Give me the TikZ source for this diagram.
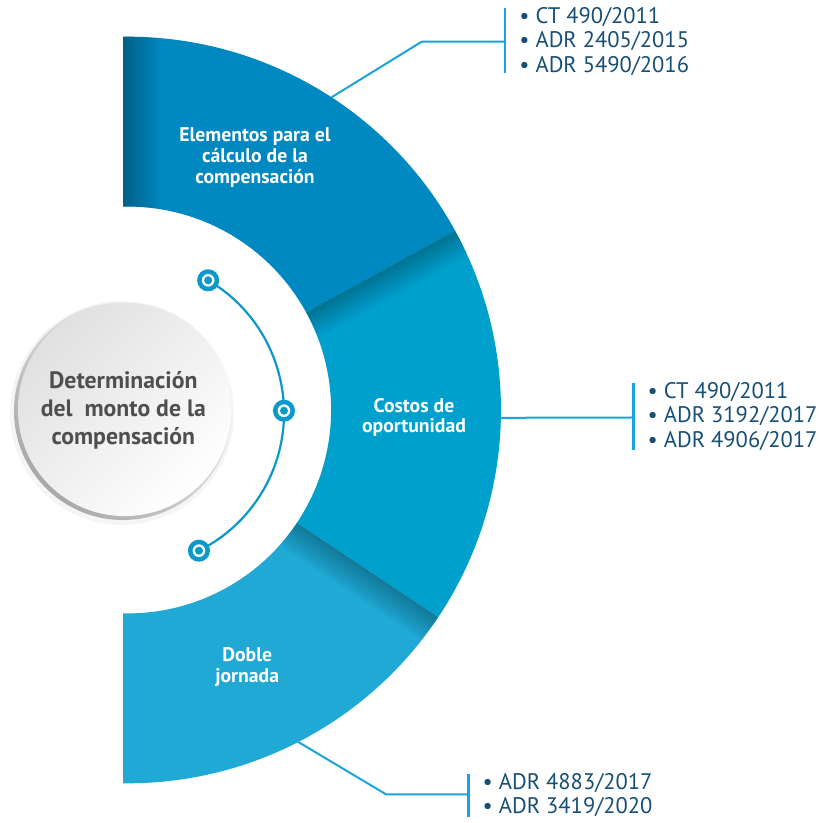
\documentclass[tikz,border=0pt]{standalone}
\usepackage{fontspec}
\setmainfont{PT Sans}
\usetikzlibrary{calc}
\definecolor{segtop}{HTML}{0088C0}
\definecolor{segmid}{HTML}{00A0CD}
\definecolor{segbot}{HTML}{1FA9D4}
\definecolor{linecol}{HTML}{1AA5D8}
\definecolor{dotcol}{HTML}{0B98CB}
\definecolor{reftext}{HTML}{174F75}
\definecolor{hubtextc}{HTML}{4F4F4F}
\definecolor{rimgray}{HTML}{A8A8A8}
\definecolor{hubtop}{HTML}{E0E0E0}
\begin{document}
\begin{tikzpicture}[x=1bp,y=1bp,
  seglabel/.style={text=white,font=\bfseries\fontsize{19.8}{20.9}\selectfont,align=center,inner sep=0pt},
  reflist/.style={text=reftext,font=\fontsize{22.6}{24.2}\selectfont,align=left,anchor=west,inner sep=0pt},
  conn/.style={draw=linecol,line width=2bp},
  barline/.style={draw=linecol,line width=2.8bp},
  dotnode/.style={circle,draw=dotcol,line width=4.5bp,fill=white,minimum size=17.5bp,inner sep=0pt},
  arcline/.style={draw=dotcol,line width=2.2bp},
  hubstyle/.style={text=hubtextc,font=\bfseries\fontsize{23.8}{28.2}\selectfont,align=center,inner sep=0pt}
]
\fill[white] (0,0) rectangle (819,823);
\useasboundingbox (0,0) rectangle (819,823);
\coordinate (c) at (127.7,413);
\begin{scope}
\clip (123,0) rectangle (819,823);
\begin{scope}[shift={(c)}]
  % top segment
  \fill[segtop] (95:373.3) arc[start angle=95,end angle=28.7,radius=373.3] -- (28.7:203.4) arc[start angle=28.7,end angle=95,radius=203.4] -- cycle;
  \begin{scope}
    \clip (95:373.3) arc[start angle=95,end angle=28.7,radius=373.3] -- (28.7:203.4) arc[start angle=28.7,end angle=95,radius=203.4] -- cycle;
    \foreach \w in {3,6,...,36} \fill[black,opacity=0.022] (-4.7,190) rectangle ({\w-4.7},380);
  \end{scope}
  % middle segment
  \fill[segmid] (28.7:373.3) arc[start angle=28.7,end angle=-33.7,radius=373.3] -- (-33.7:203.4) arc[start angle=-33.7,end angle=28.7,radius=203.4] -- cycle;
  \begin{scope}
    \clip (28.7:373.3) arc[start angle=28.7,end angle=-33.7,radius=373.3] -- (-33.7:203.4) arc[start angle=-33.7,end angle=28.7,radius=203.4] -- cycle;
    \foreach \w in {2,4,...,28} \fill[black,opacity=0.02,rotate=28.7] (150,0) rectangle (400,-\w);
  \end{scope}
  % bottom segment
  \fill[segbot] (-33.7:373.3) arc[start angle=-33.7,end angle=-95,radius=373.3] -- (-95:203.4) arc[start angle=-95,end angle=-33.7,radius=203.4] -- cycle;
  \begin{scope}
    \clip (-33.7:373.3) arc[start angle=-33.7,end angle=-95,radius=373.3] -- (-95:203.4) arc[start angle=-95,end angle=-33.7,radius=203.4] -- cycle;
    \foreach \w in {2,4,...,28} \fill[black,opacity=0.02,rotate=-33.7] (150,0) rectangle (400,-\w);
  \end{scope}
\end{scope}
\end{scope}
% connector start points on the outer edge
\coordinate (t0) at ($(c)+(56.9:373.3)$);
\coordinate (m0) at ($(c)+(-1.2:373.3)$);
\coordinate (b0) at ($(c)+(-62.8:373.3)$);

% hub circle
\fill[black,opacity=0.04] (122,410) circle (112);
\shade[top color=white,bottom color=rimgray,shading angle=-45] (123,412) circle (109);
\shade[top color=hubtop,bottom color=white,shading angle=45] (124.6,413.6) circle (106.7);
\node[hubstyle] (hub) at (123.3,412.3) {Determinación\\del\ \ monto de la\\compensación};

% inner arc with dots
\coordinate (ac) at (130,410);
\draw[arcline] ($(ac)+(59.5:154)$) arc[start angle=59.5,end angle=-63.4,radius=154];
\node[dotnode] (d1) at ($(ac)+(59.5:154)$) {};
\node[dotnode] (d2) at ($(ac)+(0.85:154)$) {};
\node[dotnode] (d3) at ($(ac)+(-63.4:154)$) {};
\foreach \d in {d1,d2,d3} \fill[dotcol] (\d.center) circle (4);

% segment labels
\node[seglabel] (s1) at (255,665.7) {Elementos para el\\cálculo de la\\compensación};
\node[seglabel] (s2) at (414,405.5) {Costos de\\oportunidad};
\node[seglabel] (s3) at (247.2,156) {Doble\\jornada};

% reference lists
\node[reflist] (l1) at (519.2,781.5) {• CT 490/2011\\• ADR 2405/2015\\• ADR 5490/2016};
\node[reflist] (l2) at (647.5,406.5) {• CT 490/2011\\• ADR 3192/2017\\• ADR 4906/2017};
\node[reflist] (l3) at (482.5,27.7) {• ADR 4883/2017\\• ADR 3419/2020};

% connectors
\coordinate (t1) at (421.7,781.3);
\coordinate (tb) at (505,781.3);
\coordinate (tbT) at (505,815);
\coordinate (tbB) at (505,750);
\draw[conn] (t0) -- (t1) -- (tb);
\draw[barline] (tbT) -- (tbB);

\coordinate (mb) at (633.5,405.5);
\coordinate (mbT) at (633.5,439.7);
\coordinate (mbB) at (633.5,373);
\draw[conn] (m0) -- (mb);
\draw[barline] (mbT) -- (mbB);

\coordinate (b1) at (386,28.7);
\coordinate (bb) at (468.3,28.7);
\coordinate (bbT) at (468.3,49);
\coordinate (bbB) at (468.3,6.3);
\draw[conn] (b0) -- (b1) -- (bb);
\draw[barline] (bbT) -- (bbB);
\end{tikzpicture}
\end{document}
